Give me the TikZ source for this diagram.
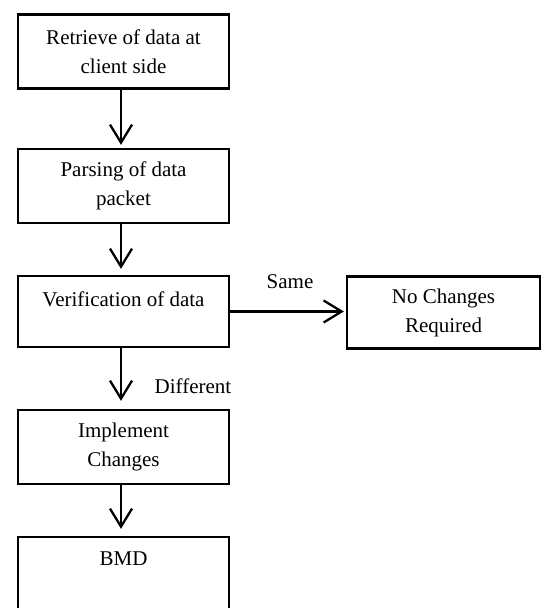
\documentclass[tikz,border=0pt]{standalone}
\usepackage{fontspec}
\setmainfont{Liberation Serif}
\usetikzlibrary{arrows.meta}
\begin{document}
\begin{tikzpicture}[x=1pt,y=-1pt,
  box/.style={draw, line width=2.3pt, align=center, inner sep=0pt, minimum width=211pt, font=\fontsize{21}{29}\selectfont},
  flow/.style={line width=2.3pt, -{Straight Barb[length=18pt,width=22pt,line width=2.3pt]}},
  lbl/.style={font=\fontsize{21}{29}\selectfont}]
\useasboundingbox (0,0) rectangle (544,608);
\node[box, minimum height=74pt] (b1) at (123.5,51.5) {Retrieve of data at\\client side};
\node[box, minimum height=74pt] (b2) at (123.5,186) {Parsing of data\\packet};
\node[box, minimum height=71pt, label={[lbl,anchor=base,yshift=-32pt]north:Verification of data}] (b3) at (123.5,311.5) {};
\node[box, minimum width=193pt, minimum height=72pt] (b4) at (443.5,312.5) {No Changes\\Required};
\node[box, minimum height=74pt] (b5) at (123.5,447) {Implement\\Changes};
\node[box, minimum height=75pt, label={[lbl,anchor=base,yshift=-30pt]north:BMD}] (b6) at (123.5,574.5) {};
\draw[flow] ([xshift=-2.5pt]b1.south) -- ([xshift=-2.5pt,yshift=3pt]b2.north);
\draw[flow] ([xshift=-2.5pt]b2.south) -- ([xshift=-2.5pt,yshift=6pt]b3.north);
\draw[flow] (b3.east) -- ([xshift=-2pt]b3.east -| b4.west);
\draw[flow] ([xshift=-2.5pt]b3.south) -- ([xshift=-2.5pt,yshift=8pt]b5.north);
\draw[flow] ([xshift=-2.5pt]b5.south) -- ([xshift=-2.5pt,yshift=7pt]b6.north);
\node[lbl] (same) at (290,282) {Same};
\node[lbl] (diff) at (193,386) {Different};
\end{tikzpicture}
\end{document}
